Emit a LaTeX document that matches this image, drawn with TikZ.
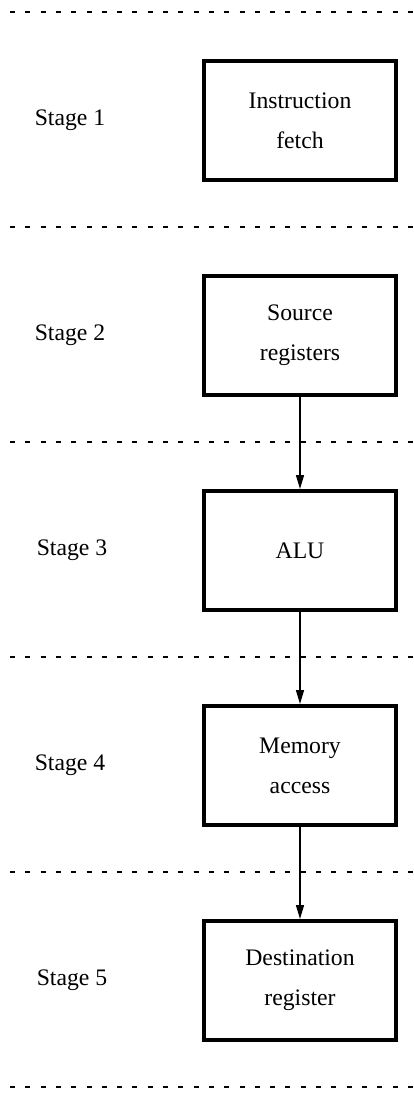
\documentclass[tikz,border=0pt]{standalone}
\usepackage{fontspec}
\setmainfont{Liberation Serif}
\usetikzlibrary{arrows.meta}
\begin{document}
\begin{tikzpicture}[x=1pt,y=-1pt,
  stagebox/.style={draw=black,line width=4pt,minimum width=192pt,minimum height=119pt,inner sep=0pt,align=center,font=\fontsize{23.7}{40}\selectfont},
  stagelabel/.style={font=\fontsize{23.7}{28}\selectfont,inner sep=0pt},
  sep/.style={line width=1.5pt,dash pattern=on 5pt off 10.3pt},
  flow/.style={line width=1.5pt,-{Triangle[length=14pt,width=8pt]}}]
\useasboundingbox (0,0) rectangle (414,1094);
\foreach \k in {0,...,5} {
  \coordinate (sl\k) at (10,12+215*\k);
  \coordinate (sr\k) at (414,12+215*\k);
  \draw[sep] (sl\k) -- (sr\k);
}
\node[stagebox] (b1) at (300,120.5) {Instruction\\fetch};
\node[stagebox] (b2) at (300,335.5) {Source\\registers};
\node[stagebox] (b3) at (300,550.5) {ALU};
\node[stagebox] (b4) at (300,765.5) {Memory\\access};
\node[stagebox] (b5) at (300,980.5) {Destination\\register};
\node[stagelabel] (l1) at (70,120.5) {Stage 1};
\node[stagelabel] (l2) at (70,335.5) {Stage 2};
\node[stagelabel] (l3) at (72,550.5) {Stage 3};
\node[stagelabel] (l4) at (70,765.5) {Stage 4};
\node[stagelabel] (l5) at (72,980.5) {Stage 5};
\draw[flow] (b2.south) -- (b3.north);
\draw[flow] (b3.south) -- (b4.north);
\draw[flow] (b4.south) -- (b5.north);
\end{tikzpicture}
\end{document}
